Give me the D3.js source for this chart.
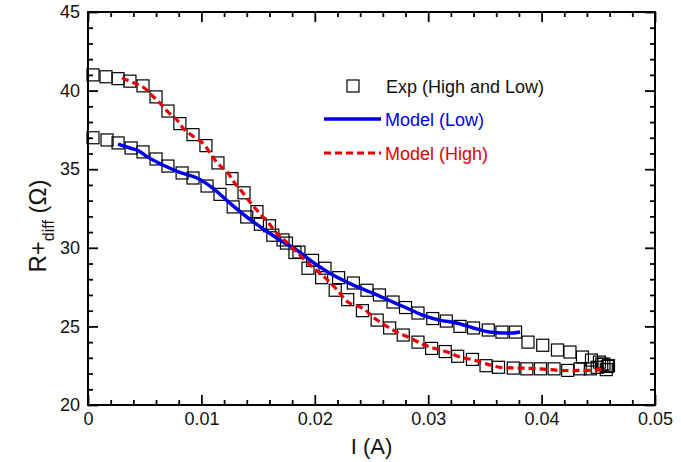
<!DOCTYPE html>
<html>
<head>
<meta charset="utf-8">
<script src="https://cdn.jsdelivr.net/npm/d3@7"></script>
<style>
  body { margin: 0; background: #fff; }
  svg text { font-family: "Liberation Sans", Arial, sans-serif; }
</style>
</head>
<body>
<div id="chart"></div>
<script>
// experimental squares, branch starting high (I in A, R in ohm)
const expHighI = [0.00044, 0.00159, 0.00265, 0.0037, 0.00485, 0.006, 0.00705, 0.0081, 0.00926, 0.0104,
  0.01146, 0.0127, 0.01376, 0.0149, 0.016, 0.0172, 0.01825, 0.0194, 0.0206, 0.0218,
  0.0229, 0.0242, 0.0255, 0.0266, 0.0278, 0.0291, 0.0303, 0.0315, 0.0326, 0.0339,
  0.0351, 0.0362, 0.0375, 0.0387, 0.0399, 0.0411, 0.0423, 0.0434, 0.0443, 0.0449, 0.0453, 0.0458];
const expHighR = [41.0, 40.88, 40.76, 40.6, 40.3, 39.6, 38.7, 37.9, 37.2, 36.5,
  35.4, 34.4, 33.5, 32.3, 31.4, 30.5, 29.7, 28.7, 28.1, 27.3,
  26.7, 26.0, 25.4, 24.9, 24.45, 24.0, 23.6, 23.4, 23.1, 22.9,
  22.5, 22.4, 22.35, 22.3, 22.3, 22.3, 22.2, 22.3, 22.3, 22.4, 22.6, 22.45];

// experimental squares, branch starting low
const expLowI = [0.00044, 0.00168, 0.00265, 0.0038, 0.00485, 0.006, 0.00705, 0.0083, 0.00926, 0.0105,
  0.01164, 0.0128, 0.014, 0.0152, 0.0163, 0.0175, 0.0186, 0.0198, 0.0209, 0.0221,
  0.0234, 0.0246, 0.0257, 0.0269, 0.028, 0.0291, 0.0304, 0.0316, 0.0328, 0.034,
  0.0353, 0.0365, 0.0377, 0.0388, 0.0401, 0.0414, 0.0425, 0.0436, 0.0444, 0.0451, 0.0455, 0.0459, 0.0457];
const expLowR = [37.0, 36.86, 36.67, 36.35, 36.1, 35.65, 35.2, 34.76, 34.44, 33.93,
  33.4, 32.6, 31.96, 31.5, 30.8, 30.3, 29.73, 29.2, 28.7, 28.1,
  27.76, 27.3, 27.0, 26.55, 26.2, 25.85, 25.5, 25.34, 25.0, 24.9,
  24.77, 24.64, 24.64, 24.0, 23.8, 23.5, 23.37, 23.05, 22.86, 22.73, 22.6, 22.5, 22.25];

// model (Low) - blue solid
const modelLowI = [0.00265, 0.0037, 0.0045, 0.0052, 0.0066, 0.0081, 0.0096, 0.011, 0.0125, 0.014,
  0.0156, 0.0169, 0.0184, 0.0198, 0.0216, 0.0234, 0.0251, 0.0269, 0.0281, 0.0295,
  0.031, 0.0325, 0.034, 0.0354, 0.0366, 0.0375, 0.0381];
const modelLowR = [36.6, 36.35, 36.15, 35.8, 35.27, 34.8, 34.44, 33.8, 32.85, 31.96,
  31.13, 30.5, 29.86, 29.1, 28.27, 27.63, 27.12, 26.55, 26.17, 25.72,
  25.4, 25.22, 24.9, 24.64, 24.58, 24.58, 24.64];

// model (High) - red dashed
const modelHighI = [0.003, 0.004, 0.00485, 0.00564, 0.00635, 0.00705, 0.00785, 0.0084, 0.00926, 0.0101,
  0.0114, 0.0123, 0.0128, 0.0136, 0.0143, 0.015, 0.0159, 0.0168, 0.0175, 0.0184,
  0.0196, 0.0209, 0.022, 0.0229, 0.0242, 0.0253, 0.0269, 0.0284, 0.0299, 0.0317,
  0.0328, 0.034, 0.0352, 0.0363, 0.0381, 0.0399, 0.0416, 0.0434, 0.0449, 0.0455];
const modelHighR = [40.8, 40.5, 40.23, 39.7, 39.2, 38.64, 38.13, 37.6, 37.1, 36.67,
  35.4, 34.8, 34.25, 33.55, 32.9, 32.3, 31.6, 30.8, 30.37, 29.73,
  28.9, 28.1, 27.3, 26.55, 26.17, 25.5, 24.77, 24.26, 23.75, 23.37,
  23.05, 22.86, 22.6, 22.4, 22.35, 22.3, 22.2, 22.2, 22.23, 22.3];

const xTicks = [0, 0.01, 0.02, 0.03, 0.04, 0.05];
const yTicks = [20, 25, 30, 35, 40, 45];

const width = 681;
const height = 462;
const margin = { top: 12, right: 26, bottom: 57, left: 88 };

const svg = d3.select("#chart")
  .append("svg")
  .attr("width", width)
  .attr("height", height);

const x = d3.scaleLinear()
  .domain([0, 0.05])
  .range([margin.left, width - margin.right]);

const y = d3.scaleLinear()
  .domain([20, 45])
  .range([height - margin.bottom, margin.top]);

const xMinor = d3.range(0, 0.0501, 0.002).filter(v => Math.abs(v * 100 - Math.round(v * 100)) > 1e-6);
const yMinor = d3.range(20, 45.01, 1).filter(v => v % 5 !== 0);

function style(g) {
  g.select(".domain").remove();
  g.selectAll(".tick line").attr("stroke", "#000").attr("stroke-width", 1.8);
  g.selectAll(".tick text").attr("font-size", 18).attr("fill", "#111");
}

// bottom axis
svg.append("g")
  .attr("transform", `translate(0,${y(20)})`)
  .call(d3.axisBottom(x).tickValues(xTicks).tickSize(-10).tickPadding(7).tickFormat(d => d === 0 ? "0" : d3.format(".2f")(d)))
  .call(style);
svg.append("g")
  .attr("transform", `translate(0,${y(20)})`)
  .call(d3.axisBottom(x).tickValues(xMinor).tickSize(-5).tickFormat(""))
  .call(style);
// top axis
svg.append("g")
  .attr("transform", `translate(0,${y(45)})`)
  .call(d3.axisTop(x).tickValues(xTicks).tickSize(-10).tickFormat(""))
  .call(style);
svg.append("g")
  .attr("transform", `translate(0,${y(45)})`)
  .call(d3.axisTop(x).tickValues(xMinor).tickSize(-5).tickFormat(""))
  .call(style);
// left axis
svg.append("g")
  .attr("transform", `translate(${x(0)},0)`)
  .call(d3.axisLeft(y).tickValues(yTicks).tickSize(-10).tickPadding(8))
  .call(style);
svg.append("g")
  .attr("transform", `translate(${x(0)},0)`)
  .call(d3.axisLeft(y).tickValues(yMinor).tickSize(-5).tickFormat(""))
  .call(style);
// right axis
svg.append("g")
  .attr("transform", `translate(${x(0.05)},0)`)
  .call(d3.axisRight(y).tickValues(yTicks).tickSize(-10).tickFormat(""))
  .call(style);
svg.append("g")
  .attr("transform", `translate(${x(0.05)},0)`)
  .call(d3.axisRight(y).tickValues(yMinor).tickSize(-5).tickFormat(""))
  .call(style);

// frame
svg.append("rect")
  .attr("x", x(0))
  .attr("y", y(45))
  .attr("width", x(0.05) - x(0))
  .attr("height", y(20) - y(45))
  .attr("fill", "none")
  .attr("stroke", "#000")
  .attr("stroke-width", 2);

// experimental squares
const sq = 12;
const expData = expHighI.map((v, i) => ({ I: v, R: expHighR[i] }))
  .concat(expLowI.map((v, i) => ({ I: v, R: expLowR[i] })));

svg.append("g")
  .selectAll("rect")
  .data(expData)
  .join("rect")
    .attr("x", d => x(d.I) - sq / 2)
    .attr("y", d => y(d.R) - sq / 2)
    .attr("width", sq)
    .attr("height", sq)
    .attr("fill", "none")
    .attr("stroke", "#000")
    .attr("stroke-width", 1.2);

const line = d3.line()
  .x(d => x(d[0]))
  .y(d => y(d[1]))
  .curve(d3.curveCatmullRom);

svg.append("path")
  .datum(modelLowI.map((v, i) => [v, modelLowR[i]]))
  .attr("fill", "none")
  .attr("stroke", "#0000e6")
  .attr("stroke-width", 3.5)
  .attr("d", line);

svg.append("path")
  .datum(modelHighI.map((v, i) => [v, modelHighR[i]]))
  .attr("fill", "none")
  .attr("stroke", "#e60000")
  .attr("stroke-width", 3.2)
  .attr("stroke-dasharray", "7,4")
  .attr("d", line);

// legend
const lg = svg.append("g").attr("font-size", 18);
lg.append("rect")
  .attr("x", 347).attr("y", 80).attr("width", 12).attr("height", 12)
  .attr("fill", "none").attr("stroke", "#000").attr("stroke-width", 1.2);
lg.append("text").attr("x", 386).attr("y", 93).attr("fill", "#111").text("Exp (High and Low)");
lg.append("line").attr("x1", 324).attr("x2", 381).attr("y1", 119).attr("y2", 119)
  .attr("stroke", "#0000e6").attr("stroke-width", 3.5);
lg.append("text").attr("x", 385).attr("y", 126).attr("fill", "#0000e6").text("Model (Low)");
lg.append("line").attr("x1", 324).attr("x2", 381).attr("y1", 153).attr("y2", 153)
  .attr("stroke", "#e60000").attr("stroke-width", 3.2).attr("stroke-dasharray", "7,4");
lg.append("text").attr("x", 385).attr("y", 160).attr("fill", "#e60000").text("Model (High)");

// axis titles
svg.append("text")
  .attr("x", (x(0) + x(0.05)) / 2)
  .attr("y", 454)
  .attr("text-anchor", "middle")
  .attr("font-size", 22)
  .attr("fill", "#111")
  .text("I (A)");

const yt = svg.append("text")
  .attr("transform", `translate(46,226) rotate(-90)`)
  .attr("text-anchor", "middle")
  .attr("font-size", 24)
  .attr("fill", "#111");
yt.append("tspan").text("R+");
yt.append("tspan").attr("font-size", 16).attr("dy", 8).text("diff");
yt.append("tspan").attr("dy", -8).text(" (Ω)");
</script>
</body>
</html>
